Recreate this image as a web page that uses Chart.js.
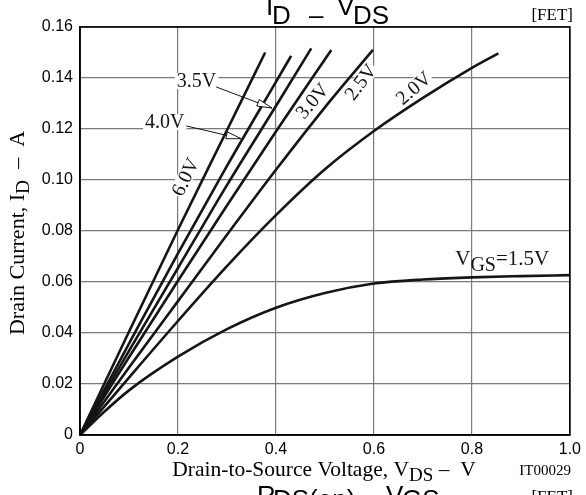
<!DOCTYPE html>
<html><head><meta charset="utf-8">
<script src="https://cdn.jsdelivr.net/npm/chart.js@4.4.0/dist/chart.umd.min.js"></script>
<style>html,body{margin:0;padding:0;background:#fff;}canvas{display:block;}</style>
</head><body>
<canvas id="c" width="586" height="495"></canvas>
<script>
// ---- data (VDS in V, ID in A) ----
const vds15 = [0, 0.05, 0.1, 0.2, 0.3, 0.4, 0.5, 0.6, 0.7, 0.8, 0.9, 1.0];
const id15  = [0, 0.0092, 0.0175, 0.0307, 0.0415, 0.0499, 0.0557, 0.0594, 0.0610, 0.0618, 0.0623, 0.0627];
const vds20 = [0, 0.1, 0.2, 0.3, 0.4, 0.5, 0.6, 0.7, 0.8, 0.854];
const id20  = [0, 0.0225, 0.0447, 0.0662, 0.0862, 0.1042, 0.1192, 0.1322, 0.1440, 0.1497];
const vds25 = [0, 0.1, 0.2, 0.3, 0.4, 0.5, 0.598];
const id25  = [0, 0.0265, 0.0525, 0.0785, 0.104, 0.1285, 0.151];
const vds30 = [0, 0.1, 0.2, 0.3, 0.4, 0.513];
const id30  = [0, 0.0305, 0.0605, 0.09, 0.119, 0.151];
const vds35 = [0, 0.1, 0.2, 0.3, 0.4, 0.472];
const id35  = [0, 0.033, 0.0655, 0.098, 0.129, 0.1516];
const vds40 = [0, 0.1, 0.2, 0.3, 0.4, 0.431];
const id40  = [0, 0.0358, 0.0712, 0.1055, 0.1385, 0.1487];
const vds60 = [0, 0.1, 0.2, 0.3, 0.378];
const id60  = [0, 0.0405, 0.0805, 0.1195, 0.150];
const seriesNames = ['1.5V', '2.0V', '2.5V', '3.0V', '3.5V', '4.0V', '6.0V'];

const xTickValues = [0, 0.2, 0.4, 0.6, 0.8, 1.0];
const xTickLabels = ['0', '0.2', '0.4', '0.6', '0.8', '1.0'];
const yTickValues = [0, 0.02, 0.04, 0.06, 0.08, 0.10, 0.12, 0.14, 0.16];
const yTickLabels = ['0', '0.02', '0.04', '0.06', '0.08', '0.10', '0.12', '0.14', '0.16'];

const INK = '#151515';
const SANS = '"Liberation Sans", Arial, sans-serif';
const SERIF = '"Liberation Serif", "Times New Roman", serif';

function pts(xs, ys) { return xs.map((x, i) => ({ x: x, y: ys[i] })); }
const pairs = [[vds15, id15], [vds20, id20], [vds25, id25], [vds30, id30], [vds35, id35], [vds40, id40], [vds60, id60]];
const datasets = pairs.map(([xs, ys], k) => ({
  label: seriesNames[k], data: pts(xs, ys), borderColor: INK, borderWidth: 2.6,
  pointRadius: 0, fill: false, cubicInterpolationMode: 'monotone', borderCapStyle: 'butt'
}));

function drawSegs(ctx, x, y, segs, align) {
  let w = 0;
  segs.forEach(s => { ctx.font = s.font; w += ctx.measureText(s.t).width; });
  let cx = align === 'center' ? x - w / 2 : (align === 'right' ? x - w : x);
  ctx.textAlign = 'left';
  segs.forEach(s => { ctx.font = s.font; ctx.fillText(s.t, cx, y + (s.dy || 0)); cx += ctx.measureText(s.t).width; });
}

function arrow(ctx, x1, y1, x2, y2) {
  ctx.save();
  ctx.strokeStyle = INK; ctx.lineWidth = 1;
  ctx.beginPath(); ctx.moveTo(x1, y1); ctx.lineTo(x2, y2); ctx.stroke();
  const a = Math.atan2(y2 - y1, x2 - x1), L = 15, W = 3.5;
  const bx = x2 - L * Math.cos(a), by = y2 - L * Math.sin(a);
  const nx = -Math.sin(a) * W, ny = Math.cos(a) * W;
  ctx.beginPath(); ctx.moveTo(x2, y2); ctx.lineTo(bx + nx, by + ny); ctx.lineTo(bx - nx, by - ny); ctx.closePath();
  ctx.fillStyle = '#fff'; ctx.fill(); ctx.stroke();
  ctx.restore();
}

const decor = {
  id: 'decor',
  afterDraw(chart) {
    const ctx = chart.ctx, a = chart.chartArea;
    const xs = chart.scales.x, ys = chart.scales.y;
    const P = (v, i) => [xs.getPixelForValue(v), ys.getPixelForValue(i)];
    ctx.save();
    // frame
    ctx.strokeStyle = '#000'; ctx.lineWidth = 1.6;
    ctx.strokeRect(a.left, a.top, a.right - a.left, a.bottom - a.top);
    ctx.fillStyle = INK; ctx.textBaseline = 'alphabetic';
    // curve labels
    const LF = '20px ' + SERIF;
    const rot = [
      ['6.0V', 0.215, 0.1012, -64],
      ['3.0V', 0.474, 0.131, -50],
      ['2.5V', 0.573, 0.1384, -53],
      ['2.0V', 0.681, 0.136, -41]
    ];
    rot.forEach(([t, v, i, deg]) => {
      const [px, py] = P(v, i);
      ctx.save(); ctx.translate(px, py); ctx.rotate(deg * Math.PI / 180);
      ctx.font = LF; ctx.textAlign = 'center'; ctx.textBaseline = 'middle';
      ctx.fillStyle = '#fff'; const w = ctx.measureText(t).width;
      ctx.fillRect(-w / 2 - 1, -8, w + 2, 16);
      ctx.fillStyle = INK; ctx.fillText(t, 0, 1);
      ctx.restore();
    });
    // arrow labels
    ctx.font = LF; ctx.textAlign = 'center'; ctx.textBaseline = 'middle';
    [['3.5V', 0.238, 0.1388], ['4.0V', 0.173, 0.1227]].forEach(([t, v, i]) => {
      const [px, py] = P(v, i);
      const w = ctx.measureText(t).width;
      ctx.fillStyle = '#fff'; ctx.fillRect(px - w / 2 - 2, py - 8, w + 4, 16);
      ctx.fillStyle = INK; ctx.fillText(t, px, py + 1);
    });
    let p1 = P(0.278, 0.1365), p2 = P(0.392, 0.1282);
    arrow(ctx, p1[0], p1[1], p2[0], p2[1]);
    p1 = P(0.217, 0.1212); p2 = P(0.329, 0.1162);
    arrow(ctx, p1[0], p1[1], p2[0], p2[1]);
    // VGS label
    ctx.textBaseline = 'alphabetic';
    const [gx, gy] = P(0.766, 0.0667);
    drawSegs(ctx, gx, gy, [
      { t: 'V', font: '21px ' + SERIF }, { t: 'GS', font: '20px ' + SERIF, dy: 6 }, { t: '=1.5V', font: '21px ' + SERIF }
    ], 'left');
    // title
    ctx.fillStyle = '#000';
    const TF = '26px ' + SANS;
    ctx.font = TF; ctx.textAlign = 'left';
    ctx.fillText('I', 266, 15);
    ctx.fillText('D', 272, 24);
    ctx.fillText('–', 309, 24);
    ctx.fillText('V', 337, 15);
    ctx.fillText('DS', 353, 24);
    ctx.font = '17px ' + SERIF; ctx.textAlign = 'right';
    ctx.fillText('[FET]', 573, 20);
    // next chart's title, clipped at the bottom
    ctx.font = TF; ctx.textAlign = 'left';
    ctx.fillText('R', 257, 504);
    ctx.fillText('DS(on)', 273, 508);
    ctx.fillText('–', 362, 508);
    ctx.fillText('V', 386, 504);
    ctx.fillText('GS', 402, 508);
    ctx.font = '17px ' + SERIF; ctx.textAlign = 'right';
    ctx.fillText('[FET]', 573, 502);
    // x axis title
    const AF = '21.5px ' + SERIF, SF = '19px ' + SERIF;
    drawSegs(ctx, 324, 476, [
      { t: 'Drain-to-Source Voltage, V', font: AF }, { t: 'DS', font: SF, dy: 5 }, { t: ' \u2013  V', font: AF }
    ], 'center');
    ctx.font = '15px ' + SERIF; ctx.textAlign = 'right';
    ctx.fillText('IT00029', 571, 475);
    // y axis title
    const YF = '22px ' + SERIF, YS = '19.5px ' + SERIF;
    ctx.save(); ctx.translate(24, 233); ctx.rotate(-Math.PI / 2);
    drawSegs(ctx, 0, 0, [
      { t: 'Drain Current, I', font: YF }, { t: 'D', font: YS, dy: 5 }, { t: '  \u2013  A', font: YF }
    ], 'center');
    ctx.restore();
    ctx.restore();
  }
};

new Chart(document.getElementById('c'), {
  type: 'line',
  data: { datasets: datasets },
  plugins: [decor],
  options: {
    responsive: false, animation: false, devicePixelRatio: 1,
    layout: { padding: { left: 0, right: 13, top: 27, bottom: 0 } },
    plugins: { legend: { display: false }, tooltip: { enabled: false }, title: { display: false } },
    scales: {
      x: {
        type: 'linear', min: 0, max: 1,
        afterBuildTicks: s => { s.ticks = xTickValues.map(v => ({ value: v })); },
        afterFit: s => { s.height = 60; },
        ticks: { callback: (v, i) => xTickLabels[i], font: { family: SANS, size: 16 }, color: '#000', padding: 5, maxRotation: 0 },
        grid: { color: '#7a7a7a', lineWidth: 1.2, drawTicks: false },
        border: { display: true, color: '#000', width: 1.6 }
      },
      y: {
        type: 'linear', min: 0, max: 0.16,
        afterBuildTicks: s => { s.ticks = yTickValues.map(v => ({ value: v })); },
        afterFit: s => { s.width = 80; },
        ticks: { callback: (v, i) => yTickLabels[i], font: { family: SANS, size: 16 }, color: '#000', padding: 7 },
        grid: { color: '#7a7a7a', lineWidth: 1.2, drawTicks: false },
        border: { display: true, color: '#000', width: 1.6 }
      }
    }
  }
});
</script>
</body></html>
